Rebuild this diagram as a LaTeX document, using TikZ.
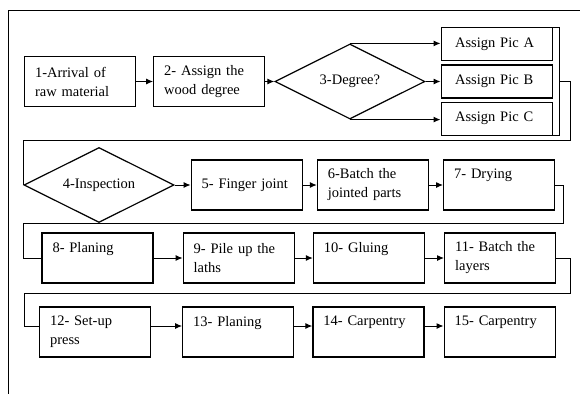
\documentclass[tikz,border=0pt]{standalone}
\usepackage{fontspec}
\setmainfont{Liberation Serif}
\usetikzlibrary{positioning,arrows.meta,shapes.geometric,calc}

\begin{document}
\begin{tikzpicture}[x=1pt, y=-1pt, line width=1pt,
  every node/.style={draw, line width=1.2pt, font=\fontsize{14.5}{19}\selectfont},
  stage/.style={minimum width=111pt, minimum height=50pt, inner xsep=10.5pt, text width=90pt, align=left},
  oneline/.style={text depth=22pt},
  choice/.style={diamond, aspect=2, inner sep=0pt, minimum width=150pt, minimum height=75pt},
  picbox/.style={minimum width=111pt, minimum height=33pt, inner xsep=14pt, text width=83pt, align=left},
  flow/.style={-{Latex[length=7pt,width=6pt]}}]
\useasboundingbox (0,0) rectangle (580,394);
\draw (580,10) -- (8,10) -- (8,394);
% first row: arrival and grading
\node[stage] (b1) at (80,81.5) {1-Arrival of\\raw material};
\node[stage, right=17pt of b1] (b2) {2- Assign the\\wood degree};
\node[choice, right=9pt of b2] (d3) {3-Degree?};
\node[picbox, right=15pt of d3] (pb) {Assign Pic B};
\node[picbox, above=3pt of pb] (pa) {Assign Pic A};
\node[picbox, below=3pt of pb] (pc) {Assign Pic C};
% second row
\node[choice] (d4) at (99,185) {4-Inspection};
\node[stage, right=16pt of d4] (b5) {5- Finger joint};
\node[stage, right=14pt of b5] (b6) {6-Batch the\\jointed parts};
\node[stage, oneline, right=14pt of b6] (b7) {7- Drying};
% third row
\node[stage, oneline] (b8) at (97.5,258) {8- Planing};
\node[stage, right=29pt of b8] (b9) {9- Pile up the\\laths};
\node[stage, oneline, right=18pt of b9] (b10) {10- Gluing};
\node[stage, right=19pt of b10] (b11) {11- Batch the\\layers};
% fourth row
\node[stage] (b12) at (95,332) {12- Set-up\\press};
\node[stage, oneline, right=31pt of b12] (b13) {13- Planing};
\node[stage, oneline, right=18pt of b13] (b14) {14- Carpentry};
\node[stage, oneline, right=19pt of b14] (b15) {15- Carpentry};
% turning points of the return lines
\coordinate (brk) at ($(pb.east)+(7,0)$);
\coordinate (t1) at (570,140);
\coordinate (t2) at (563,223);
\coordinate (t4) at (570,293);
\coordinate (t5) at (24,326);
\draw[flow] (b1) -- (b2);
\draw[flow] (b2) -- (d3);
\draw[flow] (d3.north) -- (d3.north -| pa.west);
\draw[flow] (d3) -- (pb);
\draw[flow] (d3.south) -- (d3.south -| pc.west);
\draw (pa.north east) -- ++(7,0) |- (pc.south east);
\draw (brk) -| (t1) -| (d4.west);
\draw[flow] (d4) -- (b5);
\draw[flow] (b5) -- (b6);
\draw[flow] (b6) -- (b7);
\draw (b7.east) -| (t2) -| (d4.west |- b8.west) -- (b8.west);
\draw[flow] (b8) -- (b9);
\draw[flow] (b9) -- (b10);
\draw[flow] (b10) -- (b11);
\draw (b11.east) -| (t4) -| (t5) -- (t5 -| b12.west);
\draw[flow] (t5 -| b12.east) -- (t5 -| b13.west);
\draw[flow] (t5 -| b13.east) -- (t5 -| b14.west);
\draw[flow] (t5 -| b14.east) -- (t5 -| b15.west);
\end{tikzpicture}
\end{document}
